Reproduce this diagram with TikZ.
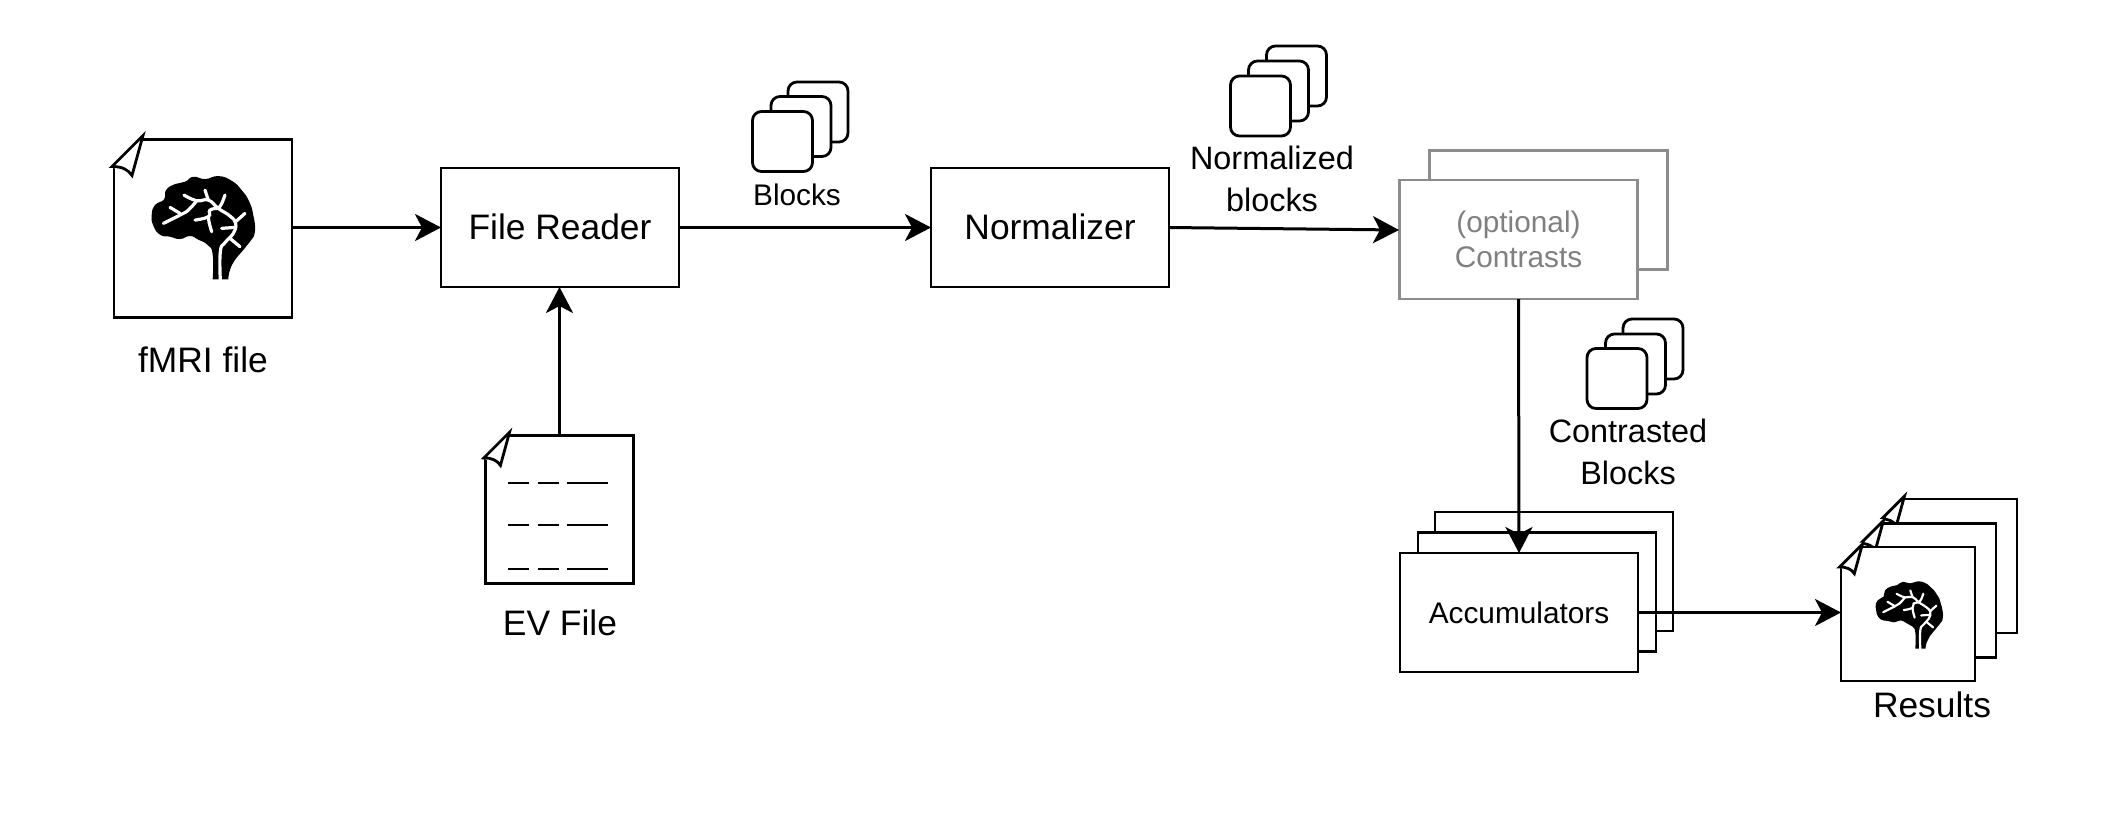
\documentclass[tikz,border=0pt]{standalone}
\usepackage{fontspec}
\setmainfont{Liberation Sans}
\usetikzlibrary{arrows.meta}
\pgfdeclarelayer{foreground}
\pgfsetlayers{main,foreground}
\definecolor{fadedline}{HTML}{8C8C8C}
\definecolor{fadedtext}{HTML}{808080}
\tikzset{
  biglabel/.style={font=\fontsize{17.7}{21}\selectfont},
  midlabel/.style={font=\fontsize{16.2}{21}\selectfont,align=center},
  smalllabel/.style={font=\fontsize{14.9}{17.5}\selectfont,align=center},
  stagebox/.style={draw,fill=white,line width=1.45pt,inner sep=0pt,outer sep=0pt,minimum width=119pt,minimum height=59.5pt},
  fadedbox/.style={stagebox,draw=fadedline,text=fadedtext},
  docpage/.style={draw,fill=white,line width=1.45pt,inner sep=0pt,outer sep=0pt,minimum width=#1,minimum height=#1},
  blockcard/.style={draw,fill=white,line width=1.4pt,rounded corners=4.5pt,inner sep=0pt,outer sep=0pt,minimum width=30pt,minimum height=30pt},
  flowarrow/.style={line width=1.5pt,-{Stealth[length=13pt,width=13.5pt,inset=3.5pt]}},
  evline/.style={line width=1.2pt,dash pattern=on 10.5pt off 4.5pt on 10.5pt off 4pt on 20.5pt off 10pt},
  pics/docfold/.style={code={
    \fill[white] (-4,27) -- (-4,-6) -- (29,-6) -- (29,-2) -- (18,36) -- cycle;
    \draw[fill=white,line width=1.4pt,line join=miter] (-2,27) -- (29,-4) -- (18,36) .. controls (14,30) and (8,27) .. (-2,27) -- cycle;
  }},
  pics/brainicon/.style={code={
    \fill plot[smooth,tension=.85] coordinates {(29,155) (29,80) (14,52) (-14,36) (-39,25) (-69,34) (-99,27) (-129,21) (-149,-6) (-154,-38) (-144,-68) (-117,-85) (-111,-113) (-84,-131) (-54,-138) (-29,-153) (6,-146) (46,-155) (86,-141) (116,-113) (139,-78) (151,-38) (156,12) (141,42) (121,67) (96,97) (81,127) (76,155)} -- cycle;
    \begin{scope}[white,line width=#1,line cap=round]
    \draw plot[smooth,tension=.8] coordinates {(52,157) (52,72) (66,45) (91,17) (98,-13) (81,-35) (46,-58) (16,-83) (-19,-81) (-57,-98)};
    \draw (16,-83) -- (6,-113);
    \draw (46,-58) .. controls (56,-70) .. (66,-98);
    \draw (98,-18) -- (126,-43);
    \draw plot[smooth,tension=.8] coordinates {(46,-58) (21,-53) (16,-33) (-24,-23)};
    \draw (16,-33) .. controls (18,-15) .. (26,12);
    \draw (96,-1) -- (56,2);
    \draw (81,32) -- (111,57);
    \draw plot[smooth,tension=.8] coordinates {(-19,-81) (-44,-53) (-69,-38) (-119,-13)};
    \draw (-69,-43) -- (-99,-61);
    \end{scope}
  }}
}
\begin{document}
\begin{tikzpicture}[x=0.5pt,y=-0.5pt]
\useasboundingbox (0,0) rectangle (2120,815);
% input files
\node[docpage=89pt] (fmri) at (203,228.5) {};
\pic at (fmri.north west) {docfold};
\pic[scale=.333] at (203,227.7) {brainicon=1.6pt};
\node[biglabel,anchor=base] (fmrilabel) at (203,372) {fMRI file};
\node[docpage=74pt] (evfile) at (559.5,509.5) {};
\pic[scale=.83] at (evfile.north west) {docfold};
\draw[evline] (508,483) -- (608,483);
\draw[evline] (508,525) -- (608,525);
\draw[evline] (508,569) -- (608,569);
\node[biglabel,anchor=base] (evlabel) at (560,635) {EV File};
% pipeline stages
\node[stagebox,biglabel,text depth=1.2pt] (reader) at (560,227.5) {File Reader};
\node[stagebox,biglabel,text depth=1.2pt] (normalizer) at (1050,227.5) {Normalizer};
\node[fadedbox] (contrastsback) at (1548.5,210) {};
\node[fadedbox,smalllabel] (contrasts) at (1518.5,239.5) {(optional)\\Contrasts};
\node[stagebox] (accumback) at (1554,571.5) {};
\node[stagebox] (accummid) at (1537,592) {};
\node[stagebox,smalllabel] (accum) at (1519,612.5) {Accumulators};
% results
\node[docpage=67pt] (resultsback) at (1950,566) {};
\pic[scale=.74] at (resultsback.north west) {docfold};
\node[docpage=67pt] (resultsmid) at (1929,590.5) {};
\pic[scale=.74] at (resultsmid.north west) {docfold};
\node[docpage=67pt] (results) at (1908,614) {};
\pic[scale=.74] at (results.north west) {docfold};
\pic[scale=.217] at (1909,615) {brainicon=1.1pt};
\node[biglabel,anchor=base] (resultslabel) at (1932,717) {Results};
% data between the stages
\node[blockcard] (blocksback) at (818,112) {};
\node[blockcard] (blocksmid) at (801,126.5) {};
\node[blockcard] (blocks) at (782.5,141.5) {};
\node[smalllabel,anchor=base] (blockslabel) at (797,205.5) {Blocks};
\node[blockcard] (normback) at (1296.5,76) {};
\node[blockcard] (normmid) at (1278.5,91) {};
\node[blockcard] (norm) at (1260.5,106) {};
\node[midlabel] (normlabel) at (1272,179) {Normalized\\blocks};
\node[blockcard] (contback) at (1653,349) {};
\node[blockcard] (contmid) at (1635.5,364) {};
\node[blockcard] (cont) at (1617,378.5) {};
\node[midlabel] (contlabel) at (1628,451.5) {Contrasted\\Blocks};
\coordinate (contrastsin) at (1399,230);
\begin{pgfonlayer}{foreground}
\draw[flowarrow] (fmri.east |- reader.west) -- (reader.west);
\draw[flowarrow] (evfile.north) -- (evfile.north |- reader.south);
\draw[flowarrow] (reader.east) -- (normalizer.west);
\draw[flowarrow] (normalizer.east) -- (contrastsin);
\draw[flowarrow] (contrasts.south) -- (accum.north);
\draw[flowarrow] (accum.east) -- (accum.east -| results.west);
\end{pgfonlayer}
\end{tikzpicture}
\end{document}
